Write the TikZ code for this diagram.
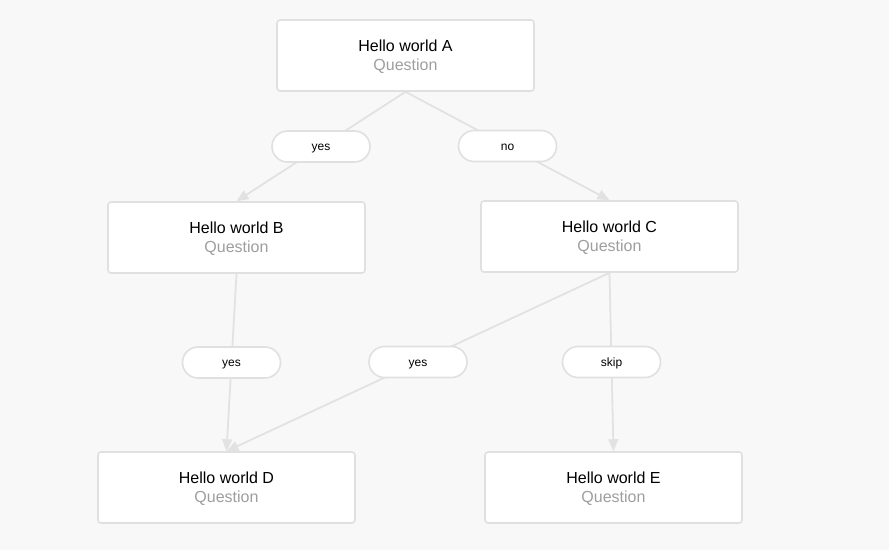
\documentclass[tikz,border=0pt]{standalone}
\usepackage{fontspec}
\setmainfont{Liberation Sans}
\usetikzlibrary{arrows.meta}
\definecolor{bg}{HTML}{F8F8F8}
\definecolor{edgec}{HTML}{E2E2E2}
\definecolor{boxc}{HTML}{E0E0E0}
\definecolor{subc}{HTML}{9E9E9E}
\begin{document}
\begin{tikzpicture}[x=1pt,y=-1pt,
  qbox/.style={draw=boxc, line width=1.6pt, fill=white, rounded corners=3pt,
    minimum width=257pt, minimum height=71pt, inner sep=0pt},
  qtitle/.style={anchor=base, inner sep=0pt, font=\fontsize{16pt}{19pt}\selectfont},
  qsub/.style={qtitle, text=subc},
  pill/.style={draw=boxc, line width=1.6pt, fill=white, rounded corners=15.5pt,
    minimum width=98pt, minimum height=31pt, inner sep=0pt,
    text height=8pt, text depth=0pt,
    font=\fontsize{12pt}{14pt}\selectfont},
  conn/.style={draw=edgec, line width=1.8pt, -{Triangle[length=12pt,width=10pt]}}
]
\fill[bg] (0,0) rectangle (889,550);
\useasboundingbox (0,0) rectangle (889,550);
\newcommand{\qnode}[3]{%
  \node[qbox] (#1) at (#2) {};
  \node[qtitle] (#1t) at ([yshift=4pt]#1.center) {#3};
  \node[qsub] (#1s) at ([yshift=-14.5pt]#1.center) {Question};}
\qnode{A}{405.5,55.5}{Hello world A}
\qnode{B}{236.5,237.5}{Hello world B}
\qnode{C}{609.5,236.5}{Hello world C}
\qnode{D}{226.5,487.5}{Hello world D}
\qnode{E}{613.5,487.5}{Hello world E}
\draw[conn] (A.south) -- (B.north) node[pill, midway] (l1) {yes};
\draw[conn] (A.south) -- (C.north) node[pill, midway] (l2) {no};
\draw[conn] (B.south) -- (D.north) node[pill, midway] (l3) {yes};
\draw[conn] (C.south) -- (D.north) node[pill, midway] (l4) {yes};
\draw[conn] (C.south) -- (E.north) node[pill, midway] (l5) {skip};
\end{tikzpicture}
\end{document}
